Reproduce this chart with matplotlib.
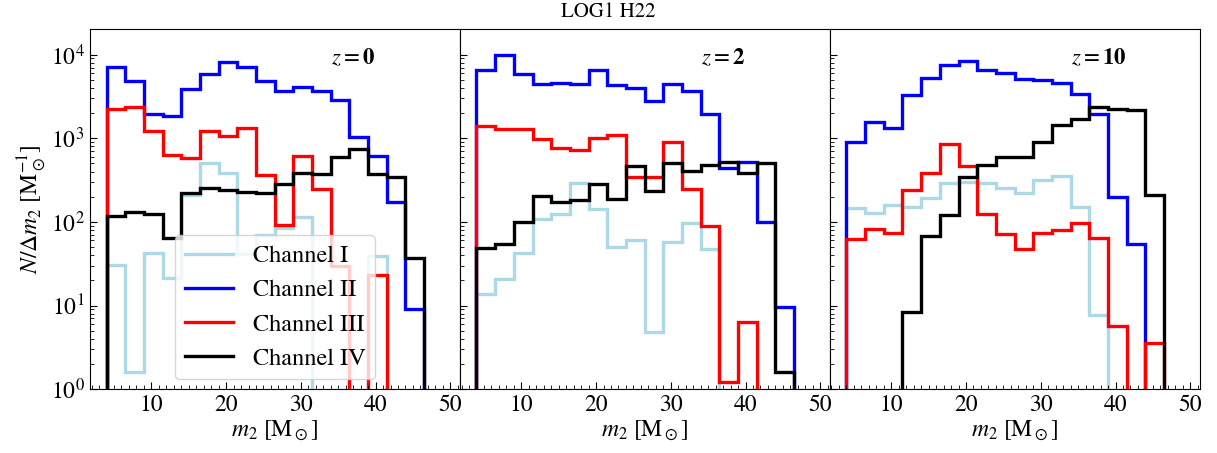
import numpy as np
import matplotlib
matplotlib.use("Agg")
import matplotlib.pyplot as plt
from matplotlib.ticker import MultipleLocator, LogLocator, NullFormatter

plt.rcParams['font.family'] = ['STIXGeneral', 'DejaVu Sans']
plt.rcParams['mathtext.fontset'] = 'stix'

# bin edges of m2 [Msun]
edges = [4.0, 6.5, 9.0, 11.5, 14.0, 16.5, 19.0, 21.5, 24.0, 26.5,
         29.0, 31.5, 34.0, 36.5, 39.0, 41.5, 44.0, 46.5]

redshifts = ['0', '2', '10']
channel_names = ['Channel I', 'Channel II', 'Channel III', 'Channel IV']
channel_colors = ['lightblue', 'blue', 'red', 'black']

# z = 0
ch1_z0 = [30.5, 1.6, 43, 21.5, 209, 508, 386, 41, 70, 85, 113, 0, 0, 0, 39, 0, 0]
ch2_z0 = [7100, 4840, 1950, 1820, 3930, 5930, 8170, 7100, 4800, 3650, 4100, 3680, 2850, 1040, 611, 174, 9.0]
ch3_z0 = [2265, 2370, 1213, 628, 583, 1213, 1067, 1344, 362, 91.5, 611, 246, 30, 0, 23, 0, 0]
ch4_z0 = [118, 132, 123, 65, 223, 251, 240, 227, 219, 280, 379, 369, 600, 747, 372, 346, 36.7]

# z = 2
ch1_z2 = [13.6, 20.7, 42, 107, 123, 288, 141, 50, 60.6, 4.8, 57, 97.6, 48, 0, 0, 0, 0]
ch2_z2 = [6620, 9810, 5930, 4510, 4630, 4420, 6500, 4300, 4030, 2770, 4420, 3650, 1940, 443, 513, 98.6, 9.7]
ch3_z2 = [1403, 1306, 1306, 975, 775, 720, 1010, 1087, 346, 346, 905, 244, 89, 1.21, 6.3, 0, 0]
ch4_z2 = [49, 55, 98.6, 203, 174, 185, 280, 187, 468, 233, 499, 404, 477, 522, 386, 499, 1.6]

# z = 10
ch1_z10 = [145, 128, 160, 151, 191, 293, 301, 293, 251, 223, 321, 355, 151, 7.6, 0, 0, 0]
ch2_z10 = [905, 1567, 1344, 3270, 5260, 7450, 8400, 6620, 6040, 5160, 5020, 4580, 3360, 1940, 199, 55, 0]
ch3_z10 = [62, 82, 74, 240, 379, 865, 464, 124, 71.5, 47.3, 73, 81, 96, 65, 5.7, 0, 3.6]
ch4_z10 = [0, 0, 0, 8.4, 68, 121, 346, 477, 600, 590, 905, 1460, 1720, 2370, 2220, 2160, 209]

panels = [
    [ch1_z0, ch2_z0, ch3_z0, ch4_z0],
    [ch1_z2, ch2_z2, ch3_z2, ch4_z2],
    [ch1_z10, ch2_z10, ch3_z10, ch4_z10],
]

fig, axes = plt.subplots(1, 3, figsize=(12.17, 4.53), dpi=100, sharey=True)
fig.subplots_adjust(left=0.074, right=0.986, bottom=0.141, top=0.935, wspace=0.0)

for i, ax in enumerate(axes):
    for vals, name, col in zip(panels[i], channel_names, channel_colors):
        ax.stairs(vals, edges, baseline=0, color=col, lw=2.4, label=name)
    ax.set_yscale('log')
    ax.set_ylim(1, 2e4)
    ax.set_xlim(1.8, 51.3)
    ax.xaxis.set_major_locator(MultipleLocator(10))
    ax.xaxis.set_minor_locator(MultipleLocator(1))
    ax.yaxis.set_major_locator(LogLocator(base=10, numticks=10))
    ax.yaxis.set_minor_locator(LogLocator(base=10, subs=np.arange(2, 10), numticks=20))
    ax.yaxis.set_minor_formatter(NullFormatter())
    ax.tick_params(which='both', direction='in', labelsize=17, pad=4)
    ax.tick_params(which='major', length=5)
    ax.tick_params(which='minor', length=3)
    ax.set_xlabel(r'$m_2\ [\mathrm{M}_\odot]$', fontsize=17, labelpad=2)
    ax.text(0.652, 0.92, r'$z=\mathbf{' + redshifts[i] + '}$', transform=ax.transAxes,
            fontsize=16.5, ha='left', va='center')
    if i > 0:
        ax.tick_params(labelleft=False)

axes[0].set_ylabel(r'$N/\Delta m_2\ [\mathrm{M}_\odot^{-1}]$', fontsize=17, labelpad=2)
axes[0].legend(loc='lower center', fontsize=17.5, framealpha=0.8, fancybox=True,
               handlelength=2.0, borderaxespad=0.4)

fig.suptitle('LOG1 H22', fontsize=15, y=0.995)

fig.savefig('out.png', dpi=100)
